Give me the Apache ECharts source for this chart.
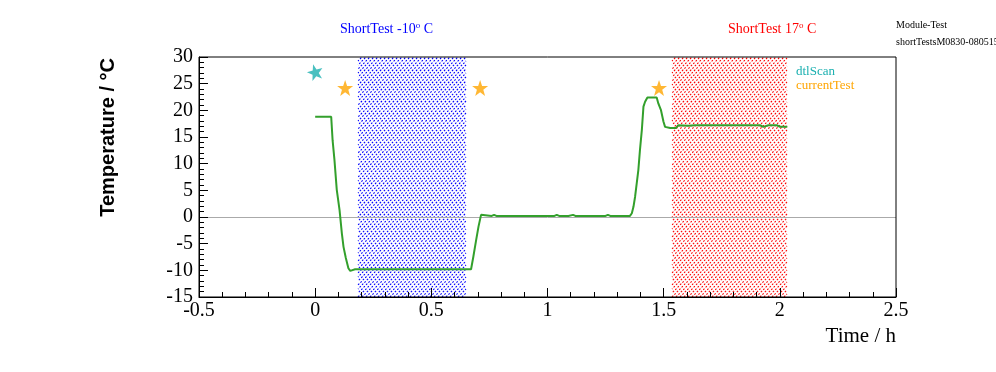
<!DOCTYPE html>
<html>
<head>
<meta charset="utf-8">
<script src="https://cdn.jsdelivr.net/npm/echarts@6/dist/echarts.min.js"></script>
<style>html,body{margin:0;padding:0;background:#fff;}#c{width:996px;height:372px;}</style>
</head>
<body>
<div id="c"></div>
<script>
// ---- data ----
const tempTime = [0, 0.069, 0.075, 0.083, 0.093, 0.105, 0.115, 0.122, 0.132, 0.143, 0.151, 0.172, 0.40, 0.671, 0.681, 0.693, 0.703, 0.714, 0.76, 0.77, 0.78, 1.03, 1.04, 1.05, 1.09, 1.11, 1.12, 1.25, 1.26, 1.27, 1.355, 1.363, 1.37, 1.377, 1.384, 1.391, 1.398, 1.406, 1.413, 1.42, 1.43, 1.47, 1.477, 1.488, 1.499, 1.506, 1.528, 1.553, 1.563, 1.606, 1.635, 1.915, 1.929, 1.951, 1.987, 2.001, 2.032];
const tempValue = [18.8, 18.8, 14.4, 10.7, 5.1, 1.3, -3.1, -5.6, -7.7, -9.6, -10.1, -9.8, -9.8, -9.8, -7.4, -4.3, -1.8, 0.4, 0.2, 0.4, 0.2, 0.2, 0.4, 0.2, 0.2, 0.4, 0.2, 0.2, 0.4, 0.2, 0.2, 0.7, 1.9, 3.8, 6.3, 8.8, 12.6, 16.3, 20.7, 21.6, 22.4, 22.4, 21.3, 20.1, 17.9, 16.9, 16.7, 16.7, 17.2, 17.1, 17.2, 17.2, 16.9, 17.2, 17.2, 16.9, 16.9];
const dtlScanTime = [0];
const dtlScanValue = [27.2];
const currentTestTime = [0.129, 0.71, 1.48];
const currentTestValue = [24.2, 24.2, 24.2];
const shortTestNames = ['ShortTest -10', 'ShortTest 17'];
const shortTestStart = [0.185, 1.536];
const shortTestEnd = [0.65, 2.031];
const xTicks = [-0.5, 0, 0.5, 1, 1.5, 2, 2.5];
const yTicks = [-15, -10, -5, 0, 5, 10, 15, 20, 25, 30];

// ---- styles ----
const hatchColors = ['#0000ff', '#ff0000'];
const starPath = 'path://M0,-10 L2.35,-3.24 L9.51,-3.09 L3.8,1.24 L5.88,8.09 L0,4 L-5.88,8.09 L-3.8,1.24 L-9.51,-3.09 L-2.35,-3.24 Z';
const serif = '"Liberation Serif", "DejaVu Serif", serif';
const sans = '"Liberation Sans", Arial, sans-serif';
const teal = '#1bb0b0';
const orange = '#ffa500';

function renderHatch(params, api) {
  const cs = params.coordSys;
  const xa = Math.round(api.coord([api.value(0), 0])[0]);
  const xb = Math.round(api.coord([api.value(1), 0])[0]);
  const y0 = cs.y, y1 = cs.y + cs.height;
  const color = hatchColors[params.dataIndex];
  const children = [{type: 'rect', shape: {x: xa, y: y0, width: xb - xa, height: y1 - y0}, style: {fill: '#fff'}}];
  const step = 4;
  for (let k = xa - (y1 - y0); k < xb; k += step) {
    let sx = k, sy = y1, off = 0;
    if (sx < xa) { sy = y1 - (xa - k); sx = xa; off = (xa - k) * Math.SQRT2; }
    let ex = k + (y1 - y0), ey = y0;
    if (ex > xb) { ey = y1 - (xb - k); ex = xb; }
    if (sy <= ey) continue;
    children.push({type: 'line', shape: {x1: sx, y1: sy, x2: ex, y2: ey},
      style: {stroke: color, lineWidth: 1.1, lineDash: [1.8, 1.6], lineDashOffset: off}});
  }
  return {type: 'group', children};
}

const chart = echarts.init(document.getElementById('c'), null, {renderer: 'canvas'});
chart.setOption({
  animation: false,
  backgroundColor: '#fff',
  grid: {left: 199, right: 100, top: 57, bottom: 75, show: true, borderColor: '#000', borderWidth: 1, backgroundColor: 'transparent', z: 10},
  xAxis: {
    type: 'value', min: -0.5, max: 2.5, interval: 0.5, z: 10,
    axisLine: {show: true, onZero: false, lineStyle: {color: '#000', width: 1}},
    axisTick: {show: true, inside: true, length: 9, lineStyle: {color: '#000'}},
    minorTick: {show: true, splitNumber: 5, length: 5, lineStyle: {color: '#000'}},
    splitLine: {show: false},
    axisLabel: {color: '#000', fontFamily: serif, fontSize: 20, margin: 4,
      formatter: v => String(xTicks.find(t => Math.abs(t - v) < 1e-9) ?? v)},
  },
  yAxis: {
    type: 'value', min: -15, max: 30, interval: 5, z: 10,
    axisLine: {show: true, onZero: false, lineStyle: {color: '#000', width: 1}},
    axisTick: {show: true, inside: true, length: 9, lineStyle: {color: '#000'}},
    minorTick: {show: true, splitNumber: 5, length: 5, lineStyle: {color: '#000'}},
    splitLine: {show: false},
    axisLabel: {color: '#000', fontFamily: serif, fontSize: 20, margin: 6,
      formatter: v => String(yTicks.find(t => Math.abs(t - v) < 1e-9) ?? v)},
  },
  series: [
    {
      type: 'line', data: [], silent: true, z: 1,
      markLine: {silent: true, symbol: 'none', label: {show: false},
        lineStyle: {color: '#aaaaaa', width: 1, type: 'solid'}, data: [{yAxis: 0}]}
    },
    {
      type: 'custom', z: 2, silent: true, clip: true,
      data: shortTestStart.map((s, i) => [s, shortTestEnd[i]]),
      encode: {x: [0, 1]},
      renderItem: renderHatch
    },
    {
      name: 'temperature', type: 'line', z: 5,
      data: tempTime.map((t, i) => [t, tempValue[i]]),
      showSymbol: false, symbol: 'none',
      lineStyle: {color: '#33a02c', width: 2}, itemStyle: {color: '#33a02c'}
    },
    {
      name: 'dtlScan', type: 'scatter', z: 6,
      data: dtlScanTime.map((t, i) => [t, dtlScanValue[i]]),
      symbol: starPath, symbolSize: 16, symbolRotate: 15, itemStyle: {color: teal}
    },
    {
      name: 'currentTest', type: 'scatter', z: 6,
      data: currentTestTime.map((t, i) => [t, currentTestValue[i]]),
      symbol: starPath, symbolSize: 16, itemStyle: {color: orange}
    }
  ],
  legend: {
    orient: 'vertical', left: 786, top: 60, itemWidth: 0, itemHeight: 0, itemGap: 1, icon: 'rect',
    data: [
      {name: 'dtlScan', textStyle: {color: teal}},
      {name: 'currentTest', textStyle: {color: orange}}
    ],
    textStyle: {fontFamily: serif, fontSize: 13}, selectedMode: false
  },
  graphic: [
    {type: 'text', left: 340, top: 21, style: {
      text: '{a|' + shortTestNames[0] + '}{s|o}{a| C}',
      rich: {a: {fontFamily: serif, fontSize: 14, fill: '#0000ff'}, s: {fontFamily: serif, fontSize: 9, fill: '#0000ff', verticalAlign: 'top', padding: [0, 0, 8, 0]}}}},
    {type: 'text', left: 728, top: 21, style: {
      text: '{a|' + shortTestNames[1] + '}{s|o}{a| C}',
      rich: {a: {fontFamily: serif, fontSize: 14, fill: '#ff0000'}, s: {fontFamily: serif, fontSize: 9, fill: '#ff0000', verticalAlign: 'top', padding: [0, 0, 8, 0]}}}},
    {type: 'text', x: 896, y: 25, style: {text: 'Module-Test', fontFamily: serif, fontSize: 10, fill: '#000', textVerticalAlign: 'middle'}},
    {type: 'text', x: 896, y: 42, style: {text: 'shortTestsM0830-080515', fontFamily: serif, fontSize: 10, fill: '#000', textVerticalAlign: 'middle'}},
    {type: 'text', x: 896, y: 336, style: {text: 'Time / h', fontFamily: serif, fontSize: 21, fill: '#000', textAlign: 'right', textVerticalAlign: 'middle'}},
    {type: 'text', x: 108, y: 58, rotation: Math.PI / 2, style: {text: 'Temperature / °C', fontFamily: sans, fontWeight: 'bold', fontSize: 20, fill: '#000', textAlign: 'right', textVerticalAlign: 'middle'}}
  ]
});
</script>
</body>
</html>
